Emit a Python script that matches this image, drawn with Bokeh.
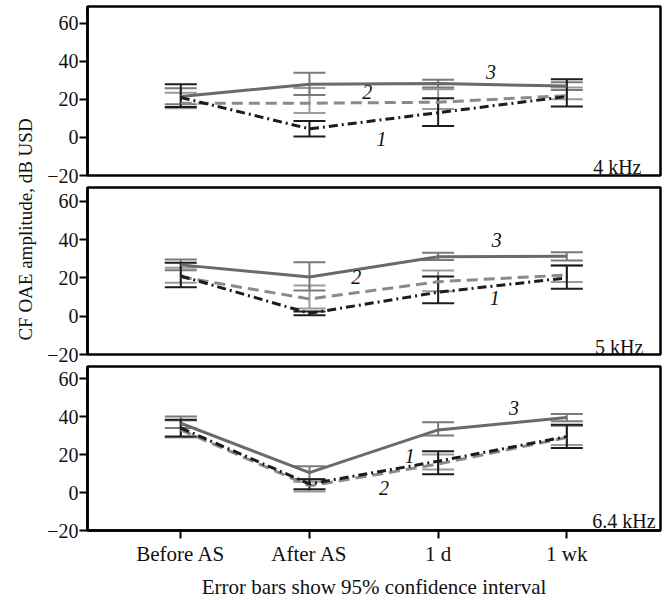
import math
from bokeh.plotting import figure
from bokeh.models import Range1d, FixedTicker, Whisker, TeeHead, ColumnDataSource, Label
from bokeh.layouts import row, column
from bokeh.core.properties import value
from bokeh.embed import file_html
from bokeh.resources import INLINE

categories = ["Before AS", "After AS", "1 d", "1 wk"]
freq_labels = ["4 kHz", "5 kHz", "6.4 kHz"]
y_ticks = [-20, 0, 20, 40, 60]

# ---- 4 kHz ----
k4_s1_mean = [21, 4.5, 13, 21.5]
k4_s1_lo = [16, 0.5, 6, 16.2]
k4_s1_hi = [27.9, 8.7, 20.6, 30.6]
k4_s2_mean = [18, 18, 18.5, 22]
k4_s2_lo = [15.3, 12.9, 15, 20]
k4_s2_hi = [23.5, 26, 25.3, 26.3]
k4_s3_mean = [21.5, 28, 28.3, 27]
k4_s3_lo = [17.4, 22.3, 26.3, 24.9]
k4_s3_hi = [25.8, 34, 30.3, 29]

# ---- 5 kHz ----
k5_s1_mean = [21, 1.5, 12.5, 20]
k5_s1_lo = [15.1, 0.5, 6.8, 14.3]
k5_s1_hi = [27.9, 2.5, 20.7, 26.5]
k5_s2_mean = [20.5, 9, 18, 21.5]
k5_s2_lo = [17.4, 4, 13, 17.8]
k5_s2_hi = [25.3, 16, 23.9, 26.5]
k5_s3_mean = [26.8, 20.5, 31, 31.3]
k5_s3_lo = [24, 13.4, 29.4, 29.1]
k5_s3_hi = [29.6, 28.2, 33.1, 33.4]

# ---- 6.4 kHz ----
k6_s1_mean = [34, 4.5, 16.5, 29.5]
k6_s1_lo = [29.5, 1.7, 9.6, 23.5]
k6_s1_hi = [38.3, 7, 21.7, 35.7]
k6_s2_mean = [33, 3.5, 15, 29]
k6_s2_lo = [29, 0.5, 12.2, 25]
k6_s2_hi = [38, 5.7, 20, 35]
k6_s3_mean = [36.5, 10.5, 33, 39.5]
k6_s3_lo = [34, 7, 30, 37.5]
k6_s3_hi = [40, 13.9, 37, 41.4]

# curve number annotations (x index, y value)
k4_num_x = [1.56, 1.45, 2.41]
k4_num_y = [-0.8, 24, 34.3]
k5_num_x = [2.44, 1.363, 2.455]
k5_num_y = [9.6, 20.7, 39.9]
k6_num_x = [1.78, 1.58, 2.59]
k6_num_y = [19.1, 2.6, 44.4]
num_text = ["1", "2", "3"]

panels = [
    dict(s=[(k4_s1_mean, k4_s1_lo, k4_s1_hi), (k4_s2_mean, k4_s2_lo, k4_s2_hi), (k4_s3_mean, k4_s3_lo, k4_s3_hi)],
         nx=k4_num_x, ny=k4_num_y, label=freq_labels[0], lx=3.58, ly=-15.3, ytop=68.8,
         height=186, bt=6, bb=11),
    dict(s=[(k5_s1_mean, k5_s1_lo, k5_s1_hi), (k5_s2_mean, k5_s2_lo, k5_s2_hi), (k5_s3_mean, k5_s3_lo, k5_s3_hi)],
         nx=k5_num_x, ny=k5_num_y, label=freq_labels[1], lx=3.595, ly=-15.9, ytop=67.2,
         height=179, bt=1, bb=11),
    dict(s=[(k6_s1_mean, k6_s1_lo, k6_s1_hi), (k6_s2_mean, k6_s2_lo, k6_s2_hi), (k6_s3_mean, k6_s3_lo, k6_s3_hi)],
         nx=k6_num_x, ny=k6_num_y, label=freq_labels[2], lx=3.69, ly=-15.0, ytop=66.4,
         height=236, bt=1, bb=69),
]

FONT = "Liberation Serif"
line_colors = ["#1c1c1c", "#8a8a8a", "#6a6a6a"]
bar_colors = ["#1c1c1c", "#9a9a9a", "#7a7a7a"]
dashes = ["9 4 2 4", "11 6", "solid"]
xs = list(range(len(categories)))

figs = []
for i, pd_ in enumerate(panels):
    last = (i == len(panels) - 1)
    p = figure(width=622, height=pd_["height"],
               x_range=Range1d(-0.725, 3.728), y_range=Range1d(-20, pd_["ytop"]),
               output_backend="svg", toolbar_location=None,
               x_axis_location="below" if last else None,
               min_border_left=45, min_border_right=4,
               min_border_top=pd_["bt"], min_border_bottom=pd_["bb"])
    p.grid.visible = False
    p.outline_line_color = "black"
    p.outline_line_width = 2.5
    p.background_fill_color = "white"
    p.border_fill_color = "white"

    yax = p.yaxis[0]
    yax.ticker = FixedTicker(ticks=y_ticks)
    yax.major_label_overrides = {-20: "\u221220"}
    yax.axis_line_width = 2.5
    yax.axis_line_color = "black"
    yax.major_tick_line_width = 2
    yax.major_tick_in = 0
    yax.major_tick_out = 8
    yax.minor_tick_line_color = None
    yax.major_label_text_font = FONT
    yax.major_label_text_font_size = "20px"
    yax.major_label_text_color = "#111111"
    yax.major_label_standoff = 1

    if last:
        xax = p.xaxis[0]
        xax.ticker = FixedTicker(ticks=xs)
        xax.major_label_overrides = {k: c for k, c in zip(xs, categories)}
        xax.axis_line_width = 2.5
        xax.axis_line_color = "black"
        xax.major_tick_line_width = 2
        xax.major_tick_in = 0
        xax.major_tick_out = 8
        xax.minor_tick_line_color = None
        xax.major_label_text_font = FONT
        xax.major_label_text_font_size = "21px"
        xax.major_label_text_color = "#111111"
        xax.major_label_standoff = 3
        xax.axis_label = "Error bars show 95% confidence interval"
        xax.axis_label_text_font = FONT
        xax.axis_label_text_font_size = "21px"
        xax.axis_label_text_font_style = "normal"
        xax.axis_label_text_color = "#111111"
        xax.axis_label_standoff = 6

    # error bars
    for k in (1, 2, 0):
        mean, lo, hi = pd_["s"][k]
        src = ColumnDataSource(dict(x=xs, lo=lo, hi=hi))
        w = Whisker(source=src, base="x", lower="lo", upper="hi", dimension="height",
                    line_color=bar_colors[k], line_width=2,
                    upper_head=TeeHead(size=32, line_color=bar_colors[k], line_width=2),
                    lower_head=TeeHead(size=32, line_color=bar_colors[k], line_width=2))
        p.add_layout(w)

    # lines
    for k in (1, 2, 0):
        mean = pd_["s"][k][0]
        p.line(xs, mean, line_color=line_colors[k], line_width=3, line_dash=dashes[k])

    # curve numbers
    p.text(x=pd_["nx"], y=pd_["ny"], text=num_text, text_font=value(FONT),
           text_font_size="20px", text_font_style="italic", text_color="#111111",
           text_align="center", text_baseline="middle")

    p.add_layout(Label(x=pd_["lx"], y=pd_["ly"], text=pd_["label"], text_font=FONT,
                       text_font_size="20px", text_color="#111111", text_align="right",
                       text_baseline="alphabetic"))
    figs.append(p)

lab = figure(width=42, height=601, x_range=Range1d(0, 1), y_range=Range1d(0, 1),
             output_backend="svg", toolbar_location=None, x_axis_location=None,
             y_axis_location=None, min_border=0, outline_line_color=None)
lab.grid.visible = False
lab.add_layout(Label(x=25 / 42, y=1 - 229 / 601, text="CF OAE amplitude, dB USD", angle=math.pi / 2,
                     text_font=FONT, text_font_size="19px", text_color="#111111",
                     text_align="center", text_baseline="middle"))

layout = row(lab, column(*figs))
open("out.html", "w").write(file_html(layout, INLINE))
